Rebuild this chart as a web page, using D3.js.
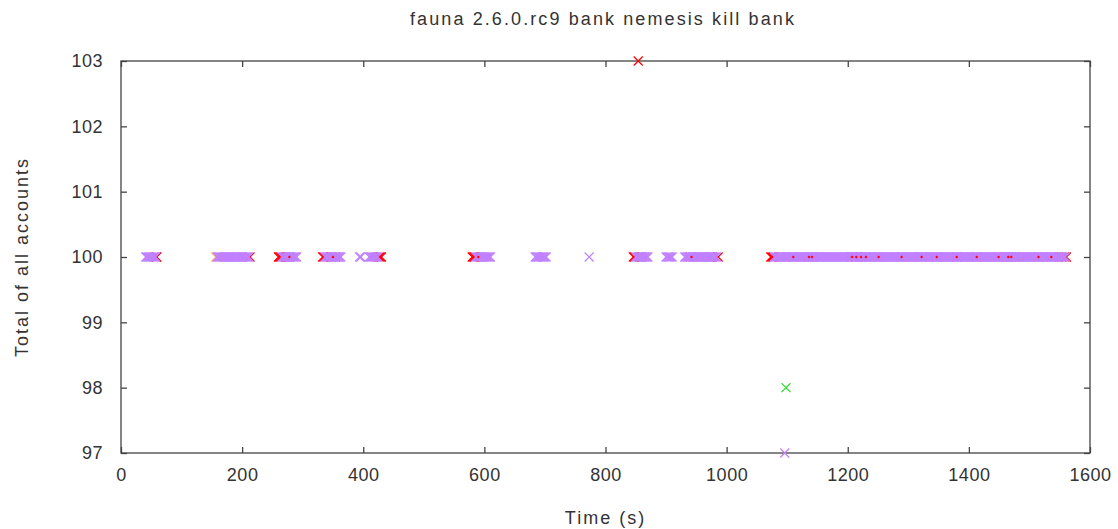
<!DOCTYPE html>
<html><head><meta charset="utf-8">
<script src="https://cdn.jsdelivr.net/npm/d3@7"></script>
<style>body{margin:0;background:#fff}text{font-family:"Liberation Sans",Arial,sans-serif;fill:#333}</style>
</head><body><svg id="c" width="1118" height="529"></svg>
<script>
const title = "fauna 2.6.0.rc9 bank nemesis kill bank";
const xTicks = [0,200,400,600,800,1000,1200,1400,1600];
const yTicks = [97,98,99,100,101,102,103];

// times (s) of reads with total = 100, "ok" reads (purple)
const okTimes = [41,43,45,47,49,51,53,55,57,
159,161,163,165,167,169,171,173,175,177,179,181,183,185,187,189,191,193,195,197,199,201,203,205,207,209,211,
266,268,270,272,274,276,278,280,282,284,286,288,290,
337,339,341,343,345,347,349,351,353,355,357,359,361,363,
394,396,410,412,414,416,418,420,422,424,
586,588,590,592,594,596,598,600,602,604,606,608,610,
684,686,688,690,692,694,696,698,700,702,
773,
850,852,854,856,858,860,862,864,866,868,870,
900,902,904,906,908,910,
931,933,935,937,939,941,943,945,947,949,951,953,955,957,959,961,963,965,967,969,971,973,975,977,979,981,983,
1079,1081,1083,1085,1087,1089,1091,1093,1095,1097,1099,1101,1103,1105,1107,1109,1111,1113,1115,1117,1119,
1121,1123,1125,1127,1129,1131,1133,1135,1137,1139,1141,1143,1145,1147,1149,1151,1153,1155,1157,1159,
1161,1163,1165,1167,1169,1171,1173,1175,1177,1179,1181,1183,1185,1187,1189,1191,1193,1195,1197,1199,
1201,1203,1205,1207,1209,1211,1213,1215,1217,1219,1221,1223,1225,1227,1229,1231,1233,1235,1237,1239,
1241,1243,1245,1247,1249,1251,1253,1255,1257,1259,1261,1263,1265,1267,1269,1271,1273,1275,1277,1279,
1281,1283,1285,1287,1289,1291,1293,1295,1297,1299,1301,1303,1305,1307,1309,1311,1313,1315,1317,1319,
1321,1323,1325,1327,1329,1331,1333,1335,1337,1339,1341,1343,1345,1347,1349,1351,1353,1355,1357,1359,
1361,1363,1365,1367,1369,1371,1373,1375,1377,1379,1381,1383,1385,1387,1389,1391,1393,1395,1397,1399,
1401,1403,1405,1407,1409,1411,1413,1415,1417,1419,1421,1423,1425,1427,1429,1431,1433,1435,1437,1439,
1441,1443,1445,1447,1449,1451,1453,1455,1457,1459,1461,1463,1465,1467,1469,1471,1473,1475,1477,1479,
1481,1483,1485,1487,1489,1491,1493,1495,1497,1499,1501,1503,1505,1507,1509,1511,1513,1515,1517,1519,
1521,1523,1525,1527,1529,1531,1533,1535,1537,1539,1541,1543,1545,1547,1549,1551,1553,1555,1557,1559];
const okValues = okTimes.map(() => 100);

// reads from other nodes (red)
const redTimes = [58,59,213,260,262,264,272,278,333,335,348,354,426,428,430,580,582,584,846,848,856,860,
940,972,976,986,1073,1075,1077,1110,1136,1141,1207,1214,1222,1230,1251,1289,1322,1347,1380,1413,1449,
1460,1465,1470,1477,1515,1536,1553,1558,1561,854];
const redValues = [100,100,100,100,100,100,100,100,100,100,100,100,100,100,100,100,100,100,100,100,100,100,
100,100,100,100,100,100,100,100,100,100,100,100,100,100,100,100,100,100,100,100,100,
100,100,100,100,100,100,100,100,100,103];
// red reads whose centres show through the purple band
const redDotTimes = [1110,1136,1141,1207,1214,1222,1230,1251,1289,1322,1347,1380,1413,1449,1465,1470,1515,1536,942,590,278,350];

const orangeTimes = [157];
const orangeValues = [100];
const greenTimes = [1098];
const greenValues = [98];
const violetTimes = [1096];
const violetValues = [97];

const svg = d3.select("#c");
const L = 121, R = 1090, T = 61, B = 453;
const x = d3.scaleLinear().domain([0,1600]).range([L,R]);
const y = d3.scaleLinear().domain([97,103]).range([B,T]);
const axisColor = "#444";

svg.append("rect").attr("x",L).attr("y",T).attr("width",R-L).attr("height",B-T)
  .attr("fill","none").attr("stroke",axisColor).attr("stroke-width",1.3);

const fmt = d3.format("d");
const ax = (g, axis) => { g.call(axis); g.select(".domain").remove();
  g.selectAll(".tick line").attr("stroke",axisColor).attr("stroke-width",1.3);
  g.selectAll("text").style("font-size","18px").style("letter-spacing","0.5px").attr("fill","#333"); };

svg.append("g").attr("transform",`translate(0,${B})`)
  .call(g=>ax(g, d3.axisBottom(x).tickValues(xTicks).tickFormat(fmt).tickSizeInner(-6).tickPadding(15)));
svg.append("g").attr("transform",`translate(0,${T})`)
  .call(g=>{ax(g, d3.axisTop(x).tickValues(xTicks).tickSizeInner(-6)); g.selectAll("text").remove();});
svg.append("g").attr("transform",`translate(${L},0)`)
  .call(g=>ax(g, d3.axisLeft(y).tickValues(yTicks).tickFormat(fmt).tickSizeInner(-6).tickPadding(18)));
svg.append("g").attr("transform",`translate(${R},0)`)
  .call(g=>{ax(g, d3.axisRight(y).tickValues(yTicks).tickSizeInner(-6)); g.selectAll("text").remove();});

const cross = "M-4.5,-4.5L4.5,4.5M-4.5,4.5L4.5,-4.5";
function plot(ts, vs, color){
  svg.append("g").selectAll("path").data(ts.map((t,i)=>[t,vs[i]])).join("path")
    .attr("d",cross).attr("transform",d=>`translate(${x(d[0])},${y(d[1])})`)
    .attr("fill","none").attr("stroke",color).attr("stroke-width",1.2);
}
plot(redTimes, redValues, "#ff0000");
plot(orangeTimes, orangeValues, "#ffa040");
plot(okTimes, okValues, "#c080ff");
svg.append("g").selectAll("path").data(redDotTimes).join("path")
  .attr("d","M-1.5,0L0,-1.5L1.5,0L0,1.5Z").attr("transform",d=>`translate(${x(d)},${y(100)})`)
  .attr("fill","#ff0000");
plot(greenTimes, greenValues, "#22e022");
plot(violetTimes, violetValues, "#c080ff");

svg.append("text").attr("x",603).attr("y",25).attr("text-anchor","middle").style("font-size","18px").style("letter-spacing","2.1px").text(title);
svg.append("text").attr("x",(L+R)/2).attr("y",524).attr("text-anchor","middle").style("font-size","18px").style("letter-spacing","2px").text("Time (s)");
svg.append("text").attr("transform",`translate(28,${(T+B)/2}) rotate(-90)`).attr("text-anchor","middle").style("font-size","18px").style("letter-spacing","2px").text("Total of all accounts");
</script></body></html>
